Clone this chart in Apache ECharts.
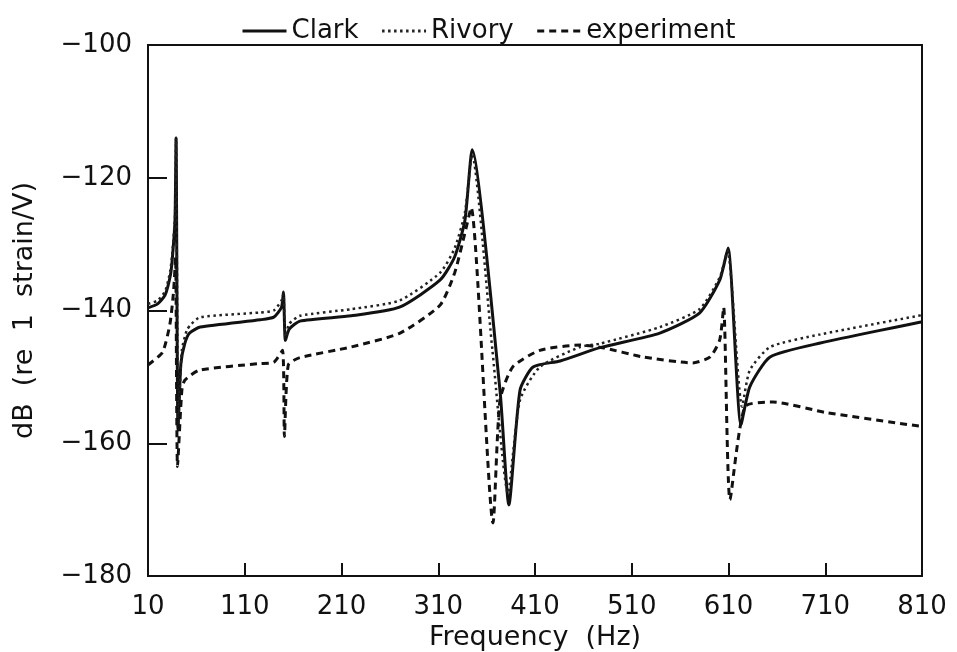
<!DOCTYPE html>
<html>
<head>
<meta charset="utf-8">
<script src="https://cdn.jsdelivr.net/npm/echarts@6/dist/echarts.min.js"></script>
<style>
    html, body { margin: 0; padding: 0; background: #fff; }
    #chart { width: 957px; height: 652px; }
</style>
</head>
<body>
<div id="chart"></div>
<script>
// 频率（Hz）与幅值（dB）—— 从原图读取
var clarkFreq = [10, 20, 27.6, 33, 35, 37.9, 39, 41, 44, 48, 53, 64, 126, 140, 148, 150, 152, 156, 167, 220, 270, 312, 327, 337.6, 345, 373.8, 383, 394.5, 408, 436, 477, 539, 580, 601, 609.5, 622.9, 632, 653, 705, 810];
var clarkDb = [-139.6, -139, -137.7, -134.8, -132.4, -126.4, -114, -158, -148, -145, -143.4, -142.5, -141.4, -141, -139.5, -137.2, -144.5, -142.8, -141.6, -140.8, -139.5, -135.4, -131.9, -126.4, -115.8, -152, -169.3, -152, -148.5, -147.6, -145.6, -143.4, -140.4, -135.4, -130.6, -157.2, -151.5, -147, -144.9, -141.7];

var rivoryFreq = [10, 20, 28, 33, 35, 38, 39, 41.3, 45, 50, 55, 64, 126, 140, 148, 150, 152, 156, 167, 220, 270, 312, 327, 337.6, 345, 366, 382, 394.5, 415, 456.5, 477, 539, 580, 601, 609, 624, 632, 653, 705, 810];
var rivoryDb = [-139, -138.5, -137, -134, -131.5, -125.5, -114, -157, -146, -143, -142, -141, -140.3, -140, -138.5, -137.5, -144, -142, -140.8, -139.8, -138.5, -134.3, -130.6, -125.2, -116.5, -146, -167.5, -153.5, -148.5, -145.5, -145, -142.5, -139.8, -135, -131, -154.5, -149, -145.5, -143.6, -140.7];

var expFreq = [10, 25, 32.7, 36.5, 38.5, 40.5, 45, 48, 63, 125, 140, 149, 151, 155, 167, 220, 270.5, 311.8, 327, 337.6, 344, 366.6, 373.8, 387, 415, 456.5, 480, 521.6, 573, 591, 601, 605, 611.5, 627, 656, 711.8, 811];
var expDb = [-148.2, -146.3, -142, -137, -132, -163.5, -152, -150.5, -149, -148, -147.8, -146, -159, -148.2, -147.1, -145.5, -143.4, -139.2, -134.3, -128.3, -124.5, -172, -153.5, -148.5, -146, -145.2, -145.6, -147, -147.9, -147, -144.4, -139.5, -168.5, -154.5, -153.8, -155.4, -157.5];

var xTicks = {min: 10, max: 810, interval: 100};
var yTicks = {min: -180, max: -100, interval: 20};

/**
 * 把频率数组和幅值数组拼成点列
 */
function toPoints(freq, db) {
    var pts = [];
    for (var i = 0; i < freq.length; i++) {
        pts.push([freq[i], db[i]]);
    }
    return pts;
}

var fontFamily = 'DejaVu Sans';
var ink = '#111';
var myChart = echarts.init(document.getElementById('chart'));
var option = {
    animation: false,
    backgroundColor: '#fff',
    legend: {
        top: 13,
        left: 236,
        itemWidth: 44,
        itemHeight: 14,
        itemGap: 22,
        itemStyle: {opacity: 0, color: 'rgba(0,0,0,0)', borderWidth: 0},
        lineStyle: {width: 3},
        textStyle: {fontSize: 26, color: ink, fontFamily: fontFamily},
        data: ['Clark', 'Rivory', 'experiment']
    },
    grid: {
        left: 148,
        right: 35,
        top: 45,
        bottom: 76,
        outerBoundsMode: 'none',
        show: true,
        borderColor: ink,
        borderWidth: 2
    },
    xAxis: {
        type: 'value',
        min: xTicks.min,
        max: xTicks.max,
        interval: xTicks.interval,
        name: 'Frequency  (Hz)',
        nameLocation: 'middle',
        nameGap: 42,
        nameTextStyle: {fontSize: 27, color: ink, fontFamily: fontFamily},
        axisLine: {lineStyle: {color: ink, width: 2}},
        axisTick: {inside: true, length: 13, lineStyle: {color: ink, width: 2}},
        axisLabel: {fontSize: 26, color: ink, margin: 18, fontFamily: fontFamily},
        splitLine: {show: false}
    },
    yAxis: {
        type: 'value',
        min: yTicks.min,
        max: yTicks.max,
        interval: yTicks.interval,
        name: 'dB  (re  1  strain/V)',
        nameLocation: 'middle',
        nameGap: 110,
        nameTextStyle: {fontSize: 27, color: ink, fontFamily: fontFamily},
        axisLine: {lineStyle: {color: ink, width: 2}},
        axisTick: {inside: true, length: 19, lineStyle: {color: ink, width: 2}},
        axisLabel: {
            fontSize: 26,
            color: ink,
            margin: 16,
            fontFamily: fontFamily,
            formatter: function (v) {
                return String(v).replace('-', '\u2212');
            }
        },
        splitLine: {show: false}
    },
    series: [
        {
            name: 'Clark',
            type: 'line',
            showSymbol: false,
            symbol: 'none',
            smooth: 0.2,
            lineStyle: {color: ink, width: 3, type: 'solid'},
            itemStyle: {color: ink},
            data: toPoints(clarkFreq, clarkDb)
        },
        {
            name: 'Rivory',
            type: 'line',
            showSymbol: false,
            symbol: 'none',
            smooth: 0.2,
            lineStyle: {color: '#222', width: 2.5, type: [2.5, 3.5]},
            itemStyle: {color: '#222'},
            data: toPoints(rivoryFreq, rivoryDb)
        },
        {
            name: 'experiment',
            type: 'line',
            showSymbol: false,
            symbol: 'none',
            smooth: 0.2,
            lineStyle: {color: ink, width: 3, type: [7, 5]},
            itemStyle: {color: ink},
            data: toPoints(expFreq, expDb)
        }
    ]
};
if (option && typeof option === "object") {
    myChart.setOption(option, true);
}
</script>
</body>
</html>
